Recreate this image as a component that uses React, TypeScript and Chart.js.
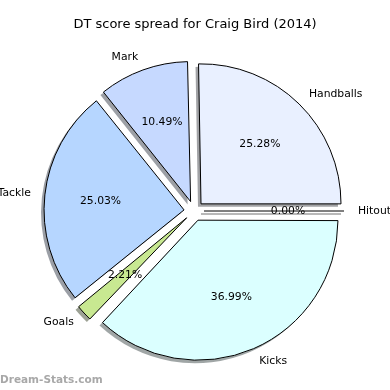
import { useEffect, useRef } from 'react';
import { Chart, registerables } from 'chart.js';

Chart.register(...registerables);

const TITLE = 'DT score spread for Craig Bird (2014)';
const WATERMARK = 'Dream-Stats.com';
const categories = ['Handballs', 'Mark', 'Tackle', 'Goals', 'Kicks', 'Hitout'];
const shares = [25.28, 10.49, 25.03, 2.21, 36.99, 0.0];
const colors = ['#e9f0ff', '#c6d9ff', '#b6d6ff', '#c8e891', '#dbffff', '#e0e0e0'];

const EXPLODE = 40; // Chart.js arc offset (translation = offset / 4)
const RADIUS = 140;
const SHADOW_DX = -3;
const SHADOW_DY = 3;
const FONT = '"DejaVu Sans", "Liberation Sans", sans-serif';

// Chart.js draws clockwise, matplotlib counter-clockwise: reverse the order.
const order = categories.map((_, i) => categories.length - 1 - i);
const chartLabels = order.map((i) => categories[i]);
const chartValues = order.map((i) => shares[i]);
const chartColors = order.map((i) => colors[i]);

function shadowColor(hex: string): string {
  const r = parseInt(hex.slice(1, 3), 16);
  const g = parseInt(hex.slice(3, 5), 16);
  const b = parseInt(hex.slice(5, 7), 16);
  return `rgba(${Math.round(r * 0.3)},${Math.round(g * 0.3)},${Math.round(b * 0.3)},0.5)`;
}

const piePlugin = {
  id: 'mplPie',
  afterDatasetUpdate(chart: any) {
    const meta = chart.getDatasetMeta(0);
    const off = EXPLODE / 4;
    meta.data.forEach((arc: any) => {
      const fix = 1 - Math.sin(Math.min(Math.PI, arc.circumference || 0));
      arc.$baseR = arc.outerRadius;
      arc.outerRadius = arc.outerRadius - off * fix;
    });
  },
  beforeDatasetsDraw(chart: any) {
    const ctx = chart.ctx;
    const meta = chart.getDatasetMeta(0);
    const off = EXPLODE / 4;
    meta.data.forEach((arc: any, i: number) => {
      const sc = shadowColor(chartColors[i]);
      if (!arc.circumference) {
        const a = arc.startAngle;
        const R = arc.$baseR ?? RADIUS;
        const ax = arc.x + Math.cos(a) * off;
        const ay = arc.y + Math.sin(a) * off;
        ctx.save();
        ctx.strokeStyle = sc;
        ctx.lineWidth = 1.5;
        ctx.beginPath();
        ctx.moveTo(ax + SHADOW_DX, ay + SHADOW_DY);
        ctx.lineTo(ax + Math.cos(a) * R + SHADOW_DX, ay + Math.sin(a) * R + SHADOW_DY);
        ctx.stroke();
        ctx.restore();
        return;
      }
      const o = arc.options;
      arc.options = { ...o, backgroundColor: sc, borderWidth: 0 };
      ctx.save();
      ctx.translate(SHADOW_DX, SHADOW_DY);
      arc.draw(ctx);
      ctx.restore();
      arc.options = o;
    });
  },
  afterDatasetsDraw(chart: any) {
    const ctx = chart.ctx;
    const meta = chart.getDatasetMeta(0);
    const off = EXPLODE / 4;
    meta.data.forEach((arc: any) => {
      if (arc.circumference) return;
      const a = arc.startAngle;
      const R = arc.$baseR ?? RADIUS;
      const ax = arc.x + Math.cos(a) * off;
      const ay = arc.y + Math.sin(a) * off;
      ctx.save();
      ctx.strokeStyle = '#000';
      ctx.lineWidth = 1;
      ctx.beginPath();
      ctx.moveTo(ax, ay);
      ctx.lineTo(ax + Math.cos(a) * R, ay + Math.sin(a) * R);
      ctx.stroke();
      ctx.restore();
    });
  },
  afterDraw(chart: any) {
    const ctx = chart.ctx;
    const meta = chart.getDatasetMeta(0);
    const off = EXPLODE / 4;
    const values: number[] = chart.data.datasets[0].data;
    const total = values.reduce((s, v) => s + v, 0);
    ctx.save();
    ctx.fillStyle = '#000';
    ctx.textBaseline = 'middle';
    ctx.font = `13px ${FONT}`;
    ctx.textAlign = 'center';
    ctx.fillText(TITLE, 195, 25);

    ctx.font = `10.8px ${FONT}`;
    meta.data.forEach((arc: any, i: number) => {
      const mid = (arc.startAngle + arc.endAngle) / 2;
      const R = arc.$baseR ?? RADIUS;
      const c = Math.cos(mid);
      const s = Math.sin(mid);
      const ax = arc.x + c * off;
      const ay = arc.y + s * off;
      const lx = ax + c * R * 1.1;
      const ly = ay + s * R * 1.1;
      ctx.textAlign = lx - arc.x > 0 ? 'left' : 'right';
      ctx.fillText(chart.data.labels[i], lx, ly);
      const px = ax + c * R * 0.6;
      const py = ay + s * R * 0.6;
      ctx.textAlign = 'center';
      ctx.fillText(`${((values[i] / total) * 100).toFixed(2)}%`, px, py);
    });

    ctx.font = `bold 10.5px ${FONT}`;
    ctx.fillStyle = '#a8a8a8';
    ctx.textAlign = 'left';
    ctx.fillText(WATERMARK, 0, 380);
    ctx.restore();
  },
};

export default function App() {
  const ref = useRef<HTMLCanvasElement>(null);
  useEffect(() => {
    const chart = new Chart(ref.current!, {
      type: 'pie',
      data: {
        labels: chartLabels,
        datasets: [
          {
            data: chartValues,
            backgroundColor: chartColors,
            borderColor: '#000',
            borderWidth: 1,
            borderJoinStyle: 'miter',
            offset: EXPLODE,
            hoverOffset: 0,
            radius: RADIUS,
          } as any,
        ],
      },
      options: {
        animation: false,
        responsive: false,
        events: [],
        rotation: 90,
        layout: { padding: { left: 4, right: 6, top: 32, bottom: 0 } },
        plugins: {
          legend: { display: false },
          tooltip: { enabled: false },
          title: { display: false },
        },
      } as any,
      plugins: [piePlugin],
    });
    return () => chart.destroy();
  }, []);
  return (
    <div style={{ position: 'absolute', left: 0, top: 0, width: 390, height: 390, background: '#fff' }}>
      <canvas ref={ref} width={390} height={390} style={{ width: 390, height: 390, display: 'block' }} />
    </div>
  );
}
